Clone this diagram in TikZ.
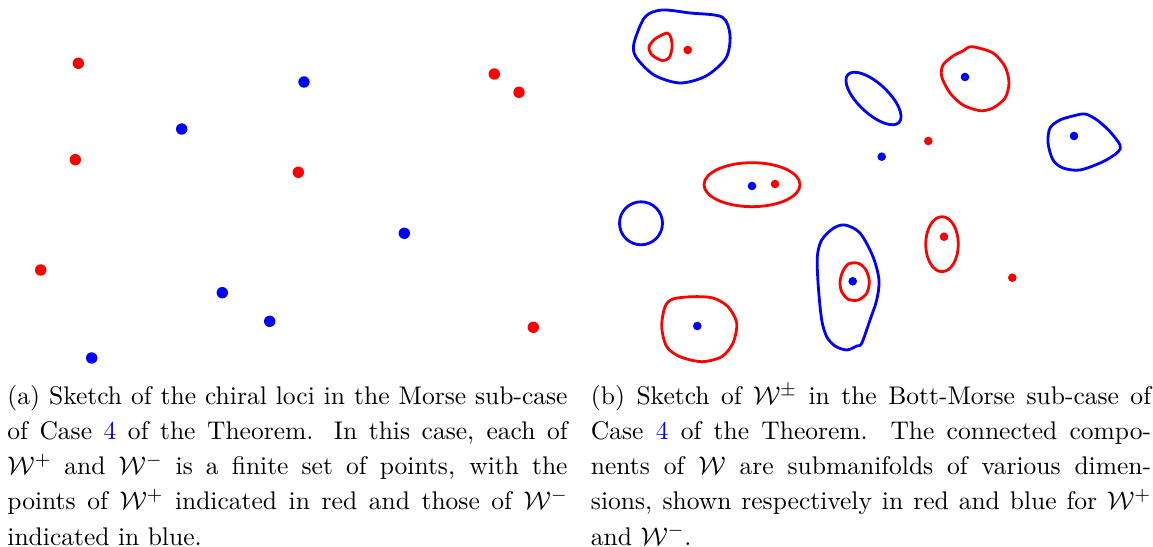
\documentclass[tikz,border=0pt]{standalone}
\usepackage{xcolor}
\begin{document}
\begin{tikzpicture}[x=0.4292pt,y=-0.4292pt,
  bigdot/.style={circle,fill,inner sep=0pt,minimum size=4.9pt},
  smalldot/.style={circle,fill,inner sep=0pt,minimum size=3.7pt},
  curve/.style={line width=1.2pt},
  capt/.style={anchor=base west,inner sep=0pt}]
\useasboundingbox (0,0) rectangle (1153,547);

% ---------- (a) Morse sub-case ----------
\node[bigdot,red] (ar1) at (78.3,63.3) {};
\node[bigdot,red] (ar2) at (75.3,159.7) {};
\node[bigdot,red] (ar3) at (40.7,270) {};
\node[bigdot,red] (ar4) at (298.3,172.3) {};
\node[bigdot,red] (ar5) at (494.3,74) {};
\node[bigdot,red] (ar6) at (519,92.3) {};
\node[bigdot,red] (ar7) at (533.3,327.3) {};
\node[bigdot,blue] (ab1) at (304,82) {};
\node[bigdot,blue] (ab2) at (181.7,129) {};
\node[bigdot,blue] (ab3) at (404.3,233.3) {};
\node[bigdot,blue] (ab4) at (222.3,292.7) {};
\node[bigdot,blue] (ab5) at (269.7,321.3) {};
\node[bigdot,blue] (ab6) at (91.7,358) {};

% ---------- (b) Bott-Morse sub-case ----------
% big blue blob top-left
\draw[curve,blue] plot[smooth cycle] coordinates {(634,43) (645,17) (662,10) (690,13) (722,17) (730,35) (726,58) (706,76) (680,83) (654,75) (636,57)};
\draw[curve,red] plot[smooth cycle] coordinates {(667,33) (671,38) (672,48) (669,58) (662,60.5) (652,55) (649,47) (655,39)};
\node[smalldot,red] (br1) at (687.7,50) {};

% tilted blue ellipse
\draw[curve,blue,rotate around={-43:(873.5,98.5)}] (873.5,98.5) ellipse[x radius=35, y radius=15];

% red blob with blue dot (top right)
\draw[curve,red] plot[smooth cycle] coordinates {(971.7,46.7) (993,53) (1005,66.7) (1009,83) (1005,98) (993,108) (980,110.7) (963,105) (950,93) (941.7,76.7) (943,65) (953,56) (963,51)};
\node[smalldot,blue] (bb1) at (965,77) {};

% blue blob right with blue dot
\draw[curve,blue] plot[smooth cycle] coordinates {(1085,114) (1097,120) (1110,131.7) (1120,145) (1118,152) (1103,161.7) (1080,170) (1063,168) (1053,160) (1048,143) (1050,128) (1060,120) (1073,116)};
\node[smalldot,blue] (bb2) at (1074,136) {};

% isolated points
\node[smalldot,red] (br2) at (928.3,141) {};
\node[smalldot,blue] (bb3) at (881.7,156.7) {};
\node[smalldot,red] (br3) at (1012.3,277.7) {};

% horizontal red ellipse
\draw[curve,red] (752,184.7) ellipse[x radius=48, y radius=22];
\node[smalldot,blue] (bb4) at (752,186) {};
\node[smalldot,red] (br4) at (775,184) {};

% blue circle
\draw[curve,blue] (641,223.3) circle[radius=21.5];

% red vertical ellipse
\draw[curve,red] (942,244.2) ellipse[x radius=16.3, y radius=27.5];
\node[smalldot,red] (br5) at (944,236.7) {};

% red blob bottom with blue dot
\draw[curve,red] plot[smooth cycle] coordinates {(661.7,326.7) (665,306.7) (673,299) (693,296.7) (713,298) (728,306.7) (736.7,323) (733,343) (721.7,356.7) (701.7,361.7) (680,356.7) (666.7,346.7)};
\node[smalldot,blue] (bb5) at (697.3,326) {};

% tall blue blob with red loop
\draw[curve,blue] plot[smooth cycle] coordinates {(845,225) (860,233) (873,256.7) (879,280) (876.7,300) (870,320) (861.7,343.3) (856.7,346) (846.7,350) (835,346) (826.7,336.7) (821.7,320) (818.3,286.7) (817.3,256.7) (821.7,240) (833.3,228.3)};
\draw[curve,red] plot[smooth cycle] coordinates {(848.3,264) (858.3,263.3) (866,270) (869.3,281.7) (866.7,293.3) (858.3,300) (848.3,299.3) (841.7,291.7) (840,281.7) (842.7,271.7)};
\node[smalldot,blue] (bb6) at (852.7,281.3) {};

% ---------- captions ----------
\node[capt] (capa) at (7,404.3) {\parbox[t]{240.4pt}{\fontsize{10.95}{15.1}\selectfont
(a) Sketch of the chiral loci in the Morse sub-case\linebreak
of Case {\color{blue}4} of the Theorem. In this case, each of\linebreak
$\mathcal{W}^+$ and $\mathcal{W}^-$ is a finite set of points, with the\linebreak
points of $\mathcal{W}^+$ indicated in red and those of $\mathcal{W}^-$\linebreak
indicated in blue.}};
\node[capt] (capb) at (590.5,404.3) {\parbox[t]{240.4pt}{\fontsize{10.95}{15.1}\selectfont
(b) Sketch of $\mathcal{W}^\pm$ in the Bott-Morse sub-case of\linebreak
Case {\color{blue}4} of the Theorem. The connected compo-\linebreak
nents of $\mathcal{W}$ are submanifolds of various dimen-\linebreak
sions, shown respectively in red and blue for $\mathcal{W}^+$\linebreak
and $\mathcal{W}^-$.}};
\end{tikzpicture}
\end{document}
